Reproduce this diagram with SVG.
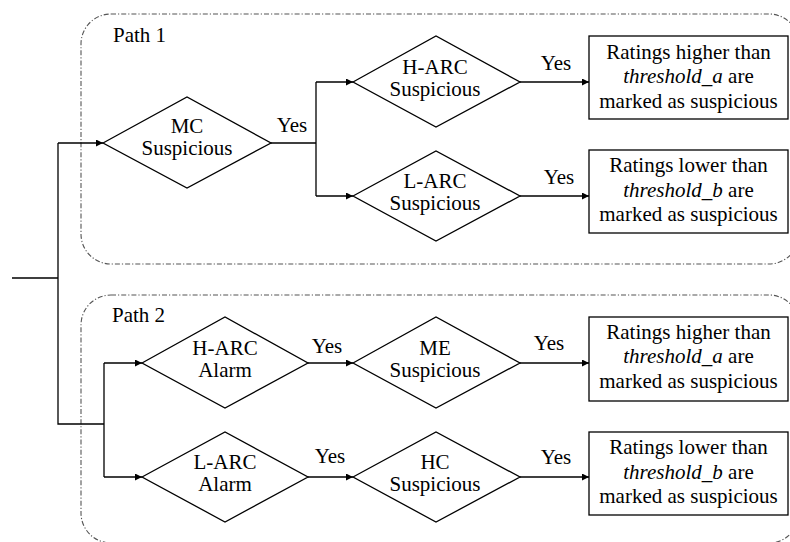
<svg xmlns="http://www.w3.org/2000/svg" width="790" height="542" viewBox="0 0 790 542">
  <defs>
    <marker id="arrow" viewBox="0 0 10 10" refX="10" refY="5" markerWidth="9" markerHeight="7" markerUnits="userSpaceOnUse" orient="auto">
      <path d="M0,0 L10,5 L0,10 Z" fill="#000"/>
    </marker>
  </defs>
  <style>
    text { font-family: 'Liberation Serif', 'Times New Roman', serif; font-size: 21px; fill: #000; }
    .c { text-anchor: middle; }
    .it { font-style: italic; }
    .region { fill: none; stroke: #555; stroke-width: 1.1; stroke-dasharray: 5 2 1.2 2; }
    .dia { fill: #fff; stroke: #000; stroke-width: 1.3; }
    .box { fill: #fff; stroke: #000; stroke-width: 1.3; }
    .wire { fill: none; stroke: #000; stroke-width: 1.3; }
    .arr { marker-end: url(#arrow); }
  </style>

  <!-- dashed regions -->
  <g id="path1-region">
    <rect class="region" x="81" y="14" width="718" height="250" rx="30" ry="30"/>
    <text x="113" y="42">Path 1</text>
  </g>
  <g id="path2-region">
    <rect class="region" x="81" y="295" width="718" height="248" rx="30" ry="30"/>
    <text x="112" y="322">Path 2</text>
  </g>

  <!-- connectors -->
  <g id="connectors">
    <path class="wire" d="M12,278 H58 M58,143 V424 H104 M104,363 V477"/>
    <path class="wire arr" d="M58,143 H103"/>
    <path class="wire" d="M271,143 H316 M316,82 V196"/>
    <path class="wire arr" d="M316,82 H353"/>
    <path class="wire arr" d="M316,196 H353"/>
    <path class="wire arr" d="M520,82 H589"/>
    <path class="wire arr" d="M520,196 H589"/>
    <path class="wire arr" d="M104,363 H142"/>
    <path class="wire arr" d="M104,477 H142"/>
    <path class="wire arr" d="M308,363 H353"/>
    <path class="wire arr" d="M308,477 H353"/>
    <path class="wire arr" d="M520,363 H589"/>
    <path class="wire arr" d="M520,477 H589"/>
    <text class="c" x="292" y="132">Yes</text>
    <text class="c" x="556" y="70">Yes</text>
    <text class="c" x="559" y="184">Yes</text>
    <text class="c" x="327" y="353">Yes</text>
    <text class="c" x="330" y="463">Yes</text>
    <text class="c" x="549" y="350">Yes</text>
    <text class="c" x="556" y="464">Yes</text>
  </g>

  <!-- Path 1 nodes -->
  <g id="mc-suspicious">
    <polygon class="dia" points="103,143 187,97 271,143 187,188"/>
    <text class="c" x="187" y="133">MC</text>
    <text class="c" x="187" y="155">Suspicious</text>
  </g>
  <g id="harc-suspicious">
    <polygon class="dia" points="353,82 436,36 520,82 436,127"/>
    <text class="c" x="435" y="74">H-ARC</text>
    <text class="c" x="435" y="96">Suspicious</text>
  </g>
  <g id="larc-suspicious">
    <polygon class="dia" points="353,196 436,151 520,196 436,241"/>
    <text class="c" x="435" y="188">L-ARC</text>
    <text class="c" x="435" y="210">Suspicious</text>
  </g>
  <g id="result-1a">
    <rect class="box" x="589" y="36" width="199" height="83"/>
    <text class="c" x="688.5" y="59">Ratings higher than</text>
    <text class="c" x="688.5" y="83"><tspan class="it">threshold_a</tspan> are</text>
    <text class="c" x="688.5" y="108">marked as suspicious</text>
  </g>
  <g id="result-1b">
    <rect class="box" x="589" y="150" width="199" height="83"/>
    <text class="c" x="688.5" y="172">Ratings lower than</text>
    <text class="c" x="688.5" y="197"><tspan class="it">threshold_b</tspan> are</text>
    <text class="c" x="688.5" y="221">marked as suspicious</text>
  </g>

  <!-- Path 2 nodes -->
  <g id="harc-alarm">
    <polygon class="dia" points="142,363 225,317 308,363 225,408"/>
    <text class="c" x="225" y="355">H-ARC</text>
    <text class="c" x="225" y="377">Alarm</text>
  </g>
  <g id="larc-alarm">
    <polygon class="dia" points="142,477 225,432 308,477 225,522"/>
    <text class="c" x="225" y="469">L-ARC</text>
    <text class="c" x="225" y="491">Alarm</text>
  </g>
  <g id="me-suspicious">
    <polygon class="dia" points="353,363 436,317 520,363 436,408"/>
    <text class="c" x="435" y="355">ME</text>
    <text class="c" x="435" y="377">Suspicious</text>
  </g>
  <g id="hc-suspicious">
    <polygon class="dia" points="353,477 436,432 520,477 436,522"/>
    <text class="c" x="435" y="469">HC</text>
    <text class="c" x="435" y="491">Suspicious</text>
  </g>
  <g id="result-2a">
    <rect class="box" x="589" y="317" width="199" height="84"/>
    <text class="c" x="688.5" y="339">Ratings higher than</text>
    <text class="c" x="688.5" y="363"><tspan class="it">threshold_a</tspan> are</text>
    <text class="c" x="688.5" y="388">marked as suspicious</text>
  </g>
  <g id="result-2b">
    <rect class="box" x="589" y="432" width="199" height="83"/>
    <text class="c" x="688.5" y="454">Ratings lower than</text>
    <text class="c" x="688.5" y="479"><tspan class="it">threshold_b</tspan> are</text>
    <text class="c" x="688.5" y="503">marked as suspicious</text>
  </g>
</svg>
